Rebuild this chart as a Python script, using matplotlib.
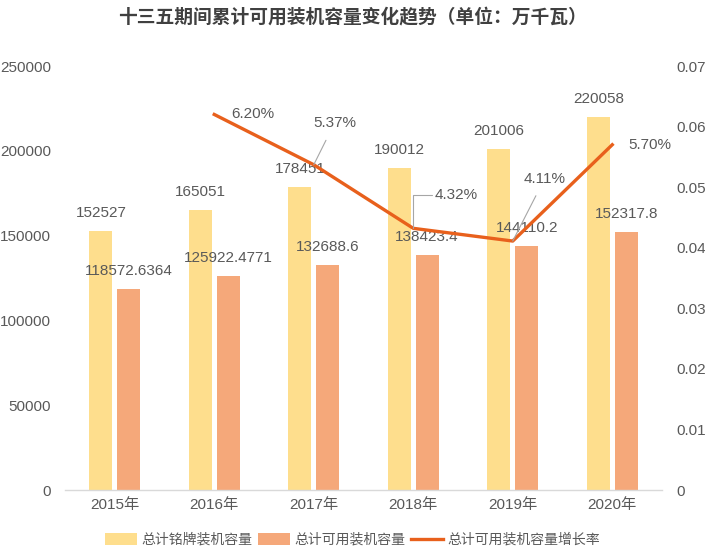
import matplotlib
matplotlib.use("Agg")
import matplotlib.pyplot as plt
import numpy as np

plt.rcParams['font.family'] = ['Liberation Sans', 'Noto Sans CJK SC', 'DejaVu Sans']

years = ['2015年', '2016年', '2017年', '2018年', '2019年', '2020年']
nameplate = [152527, 165051, 178451, 190012, 201006, 220058]
available = [118572.6364, 125922.4771, 132688.6, 138423.4, 144110.2, 152317.8]
available_labels = ['118572.6364', '125922.4771', '132688.6', '138423.4', '144110.2', '152317.8']
growth_years = ['2016年', '2017年', '2018年', '2019年', '2020年']
growth = [0.0620, 0.0537, 0.0432, 0.0411, 0.0570]
growth_labels = ['6.20%', '5.37%', '4.32%', '4.11%', '5.70%']

c_yellow = '#FEDE8D'
c_orange = '#F5A87A'
c_line = '#E8601C'
c_text = '#595959'

fig = plt.figure(figsize=(7.05, 5.54), dpi=100)
ax = fig.add_axes([65/705, 1-490/554, 597/705, 424/554])
ax2 = ax.twinx()

x = np.arange(len(years))
w = 0.23
off = 0.14
ax.bar(x - off, nameplate, w, color=c_yellow, label='总计铭牌装机容量', zorder=2)
ax.bar(x + off, available, w, color=c_orange, label='总计可用装机容量', zorder=2)

fs = 11
for i, v in enumerate(nameplate):
    ax.annotate(str(v), (x[i] - off, v), xytext=(0, 13), textcoords='offset points',
                ha='center', va='center', fontsize=fs, color=c_text)
for i, v in enumerate(available):
    ax.annotate(available_labels[i], (x[i] + off, v), xytext=(0, 13), textcoords='offset points',
                ha='center', va='center', fontsize=fs, color=c_text)

ax.set_xlim(-0.5, len(years) - 0.5)
ax.set_ylim(0, 250000)
ax.set_yticks(np.arange(0, 250001, 50000))
ax.set_xticks(x)
ax.set_xticklabels(years)

gx = np.array([years.index(g) for g in growth_years])
ax2.plot(gx, growth, color=c_line, linewidth=2.4, label='总计可用装机容量增长率', zorder=3)
ax2.set_ylim(0, 0.07)
ax2.set_yticks(np.arange(0, 0.0701, 0.01))
ax2.set_yticklabels(['0', '0.01', '0.02', '0.03', '0.04', '0.05', '0.06', '0.07'])

# growth labels (offsets in points)
offsets = [(28, 0), (15, 30), (31, 24), (23, 45), (27, 0)]
leaders = [None, 'straight', 'elbow', 'straight', None]
for i, (v, lab) in enumerate(zip(growth, growth_labels)):
    dx, dy = offsets[i]
    if leaders[i] == 'straight':
        ax2.annotate(lab, (gx[i], v), xytext=(dx, dy), textcoords='offset points',
                     ha='center', va='center', fontsize=fs, color=c_text,
                     arrowprops=dict(arrowstyle='-', color='#A6A6A6', lw=0.8,
                                     shrinkA=6, shrinkB=0))
    elif leaders[i] == 'elbow':
        ax2.annotate(lab, (gx[i], v), xytext=(dx, dy), textcoords='offset points',
                     ha='center', va='center', fontsize=fs, color=c_text,
                     arrowprops=dict(arrowstyle='-', color='#A6A6A6', lw=0.8,
                                     connectionstyle='angle,angleA=0,angleB=90,rad=0',
                                     shrinkA=0, shrinkB=0, relpos=(0, 0.5)))
    else:
        ax2.annotate(lab, (gx[i], v), xytext=(dx, dy), textcoords='offset points',
                     ha='center', va='center', fontsize=fs, color=c_text)

for a in (ax, ax2):
    for s in a.spines.values():
        s.set_visible(False)
    a.tick_params(length=0, labelsize=fs, labelcolor=c_text)
ax.spines['bottom'].set_visible(True)
ax.spines['bottom'].set_color('#D9D9D9')
ax.spines['bottom'].set_linewidth(1.0)
ax.tick_params(axis='y', pad=10)
ax.tick_params(axis='x', pad=6)
ax2.tick_params(axis='y', pad=10)

fig.suptitle('十三五期间累计可用装机容量变化趋势（单位：万千瓦）', x=0.5, y=0.985,
             fontsize=13.5, fontweight='bold', color='#404040')

h1, l1 = ax.get_legend_handles_labels()
h2, l2 = ax2.get_legend_handles_labels()
fig.legend(h1 + h2, l1 + l2, loc='center', bbox_to_anchor=(0.5, 1-540/554), ncol=3,
           frameon=False, fontsize=10, labelcolor=c_text, handlelength=2.3,
           handletextpad=0.3, columnspacing=0.4, handleheight=1.0)

fig.savefig('out.png', dpi=100)
